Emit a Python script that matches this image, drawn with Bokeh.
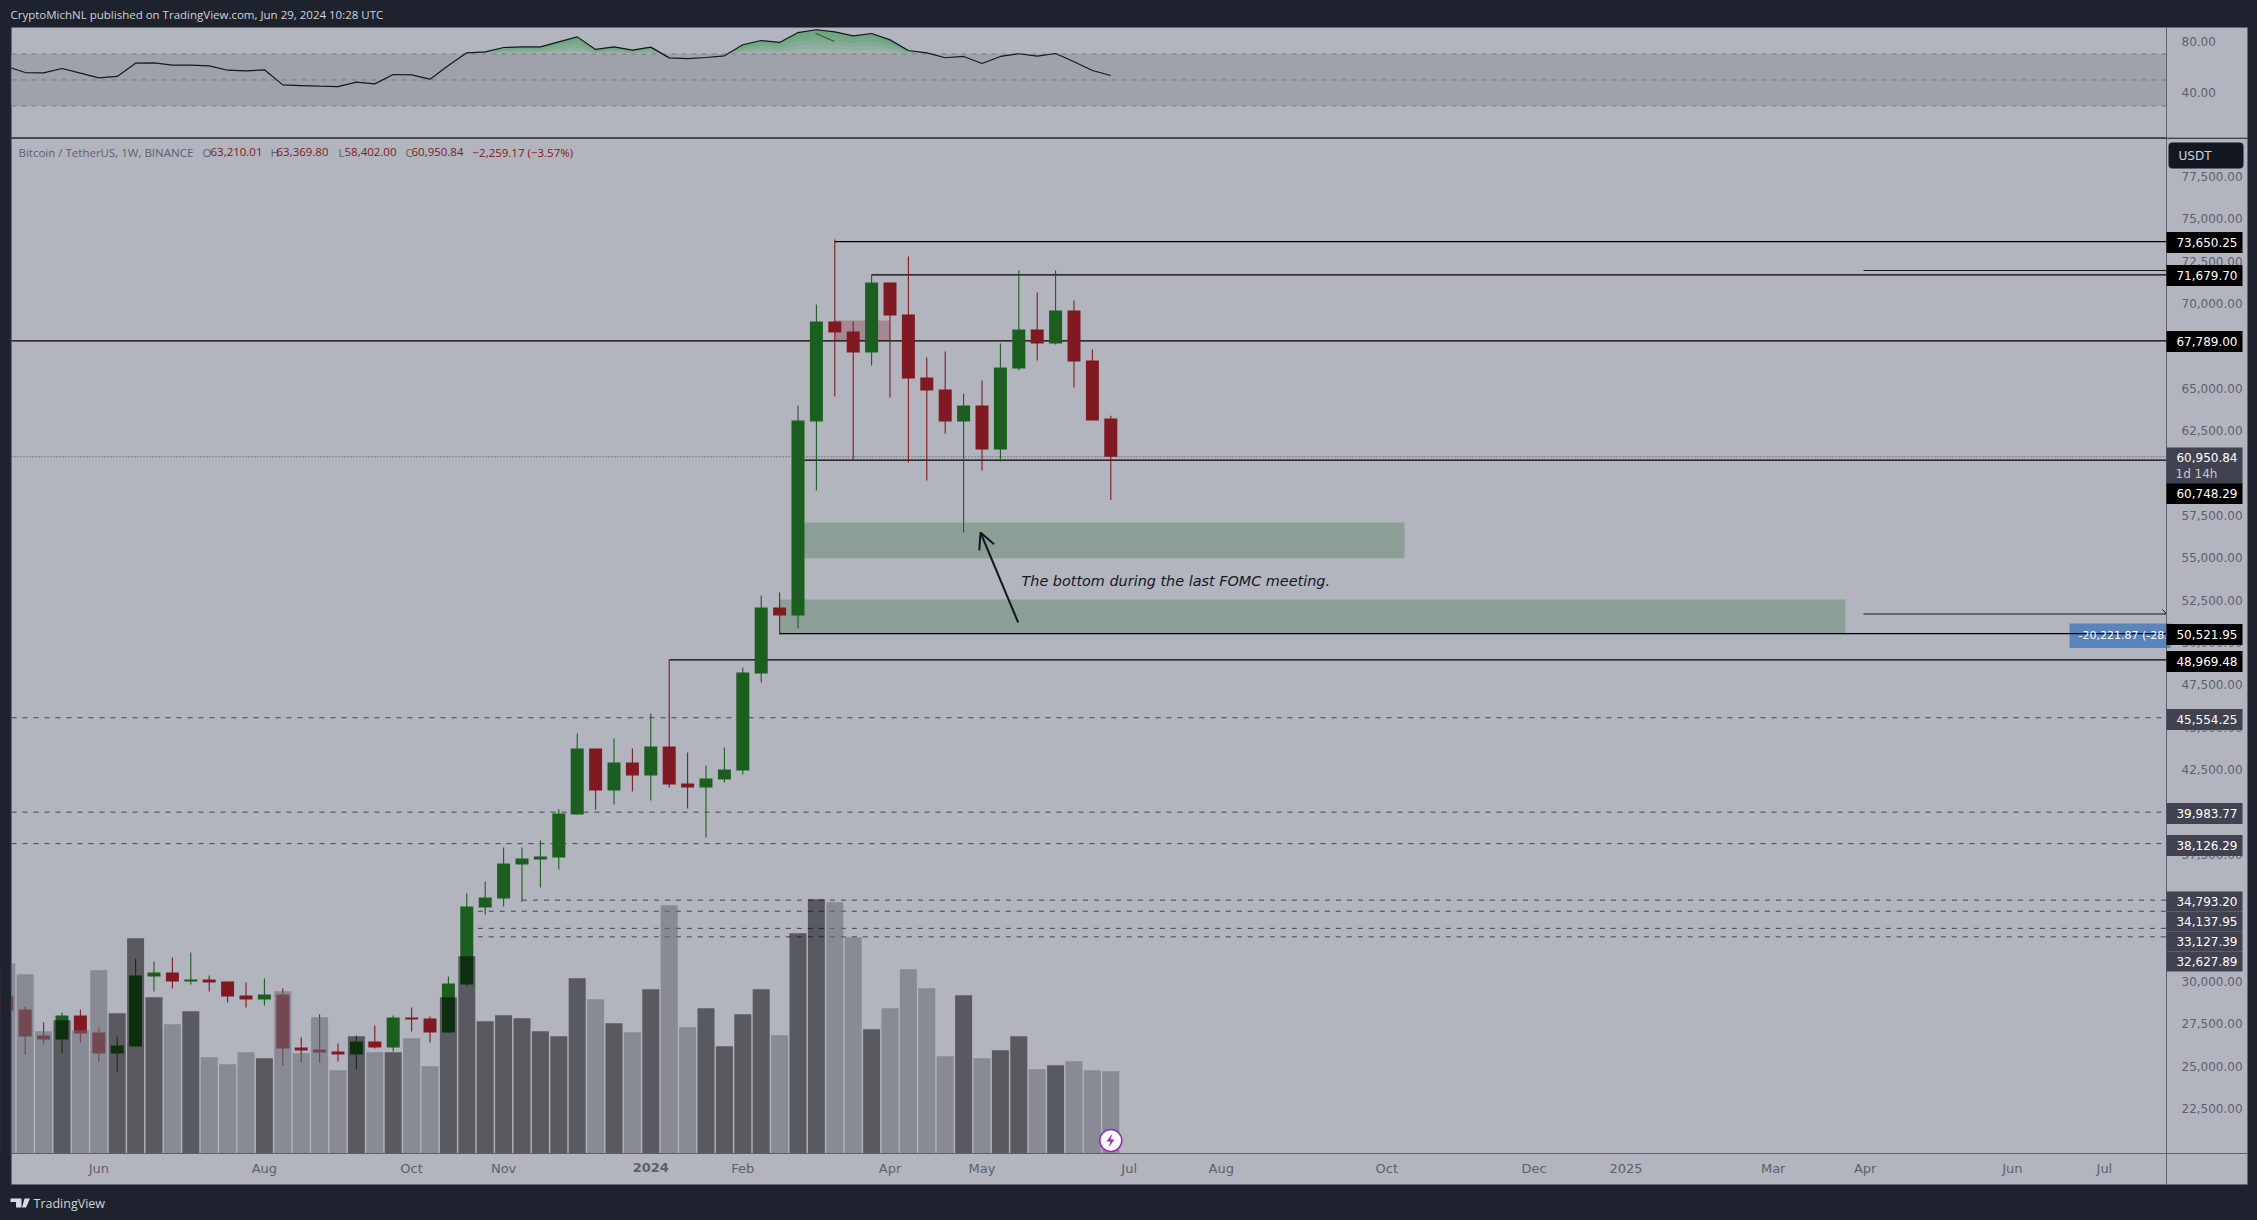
from bokeh.plotting import figure
from bokeh.layouts import column
from bokeh.embed import file_html
from bokeh.resources import INLINE
from bokeh.core.properties import value
from bokeh.models import (Range1d, FixedTicker, NumeralTickFormatter, Label, BoxAnnotation,
                          Arrow, OpenHead, PolyAnnotation)
import numpy as np

opens = [29108,28341,26807,26571,27987,26984,25745,26158,30288,30524,29993,30111,29993,29167,28931,
         29226,26099,25981,25863,25686,26453,26099,27869,27810,26984,29816,34359,34890,36896,37191,
         37309,39846,43740,41262,42914,42147,43858,41675,41439,41911,42442,48165,52059,51587,63033,
         68933,68343,67104,71234,69346,65629,64921,63033,63977,61381,66160,68461,67635,69582,66632,63210.01]
highs = [29462,28518,27574,28164,28341,27279,26748,31350,31173,31409,31704,30347,29993,29934,30170,
         29580,26689,28046,26335,26807,27397,27987,28459,27928,30288,35185,35893,37899,37899,38312,
         40141,44625,43740,44330,43740,45805,48969,43504,42737,43799,48519,52767,52944,63977,69936,
         73777,68933,71706,71234,72768,66809,67163,64685,65452,67635,71942,70644,71942,70172,67281,63369.80]
lows = [27889,25686,26276,25745,26394,25273,24683,26158,29403,29580,29816,29403,28754,28459,28577,
        25037,25214,25214,25273,24801,26040,25863,27043,26394,26984,29757,33946,34418,34695,35539,
        36600,39846,40141,40436,41203,40672,41439,40200,38489,41734,42206,47634,50466,50820,58962,
        64508,60732,66337,64449,60614,59552,62325,56484,60142,60673,66042,66632,67576,65039,63092,58402.00]
closes = [28282,26748,26571,27987,26925,25745,26217,30347,30524,29993,30111,29934,29108,28931,29226,
          26040,25922,25804,25686,26453,26099,27869,27751,26984,29875,34418,34949,36955,37250,37368,
          39905,43740,41262,42914,42147,43858,41616,41439,41970,42501,48224,52059,51587,63092,68933,
          68284,67104,71234,69287,65570,64862,63033,63977,61381,66219,68461,67635,69582,66573,63092,60950.84]
volumes = [571,538,367,400,370,550,421,646,469,388,427,289,268,304,286,487,301,409,250,352,304,304,346,
           262,469,592,397,415,406,367,352,526,463,391,364,493,745,379,436,322,418,493,355,661,763,754,
           649,373,436,553,496,292,475,286,310,352,253,265,277,250,247]
rsi = [60.4,55.7,55.5,58.8,55.2,51.6,52.7,62.9,63.2,61.4,61.4,60.9,57.5,57.0,57.8,46.2,45.7,45.2,44.9,
       48.3,47.0,54.2,53.9,50.6,61.1,70.9,71.7,75.0,75.5,75.5,79.4,83.2,73.5,75.5,73.0,75.3,67.0,66.5,
       67.3,68.6,77.1,80.4,78.9,86.5,88.7,87.1,84.0,85.8,80.9,72.7,70.9,67.1,68.1,62.7,68.1,70.2,68.3,
       70.4,64.0,57.3,53.4]
price_ticks = [22500,25000,27500,30000,32500,35000,37500,40000,42500,45000,47500,50000,52500,55000,
               57500,60000,62500,65000,67500,70000,72500,75000,77500]
time_ticks = {5:"Jun",14:"Aug",22:"Oct",27:"Nov",40:"Feb",48:"Apr",53:"May",61:"Jul",66:"Aug",75:"Oct",
              83:"Dec",88:"2025",96:"Mar",101:"Apr",109:"Jun",114:"Jul"}
solid_levels = [("73,650.25",73650.25,45),("71,679.70",71679.70,47),("67,789.00",67789.00,None),
                ("60,748.29",60748.29,43),("50,521.95",50521.95,42),("48,969.48",48969.48,36)]
dashed_levels = [("45,554.25",45554.25,None),("39,983.77",39983.77,None),("38,126.29",38126.29,None),
                 ("34,793.20",34793.20,28),("34,137.95",34137.95,25.0),("33,127.39",33127.39,25.6),("32,627.89",32627.89,25.6)]

DARK = "#1e222d"; PANE = "#b2b5be"; EDGE = "#5d606b"
GREEN = "#1b5e20"; RED = "#801922"; TICK = "#5d606b"; UI = "DejaVu Sans"

def X(px): return 60 + (px - 1110.3) / 18.4
def P(py): return 22500 + 59 * (1108 - py)
def R(py): return 30 + (105.4 - py) / 1.2975

x_range = Range1d(X(0), X(2249))

def dress(fig):
    fig.grid.visible = False
    fig.outline_line_color = None
    fig.background_fill_color = DARK
    fig.border_fill_color = DARK
    ax = fig.yaxis[0]
    ax.fixed_location = X(2166)
    ax.major_label_text_font = UI
    ax.major_label_text_font_size = "12px"
    ax.major_label_text_color = TICK
    ax.major_tick_line_color = None
    ax.minor_tick_line_color = None
    ax.axis_line_color = EDGE
    ax.major_label_standoff = 9

# ---------------------------------------------------------------- RSI pane
r = figure(width=2249, height=138, x_range=x_range, y_range=Range1d(R(138), R(0)), y_axis_location="right",
           toolbar_location=None, output_backend="svg", min_border=0)
r.xaxis.visible = False
dress(r)
r.yaxis.ticker = FixedTicker(ticks=[40, 80])
r.yaxis.formatter = NumeralTickFormatter(format="0.00")
r.yaxis.bounds = (R(138), R(27))
r.quad(left=[X(11)], right=[X(2247)], top=[R(27)], bottom=[R(138)], fill_color=PANE, line_color=None)
r.quad(left=[X(11)], right=[X(2166)], top=[70], bottom=[30], fill_color="#9fa2ab", line_color=None)
for lv in (70, 50, 30):
    r.line([X(11), X(2166)], [lv, lv], line_color="#787b86", line_width=1, line_dash="5 5")
idx = list(range(len(rsi)))
xf = np.linspace(0, 60, 2401)
rf = np.interp(xf, idx, rsi)
top = np.maximum(rf, 70)
for f in (0, 0.2, 0.4, 0.6, 0.8):
    r.varea(x=xf, y1=70 + (top - 70) * f, y2=top, fill_color="#2e9e46", fill_alpha=0.13)
r.line(idx, rsi, line_color="#131722", line_width=1.2)
r.line([X(815), X(834)], [86.0, 79.6], line_color="#1f4f2a", line_width=1)
r.add_layout(BoxAnnotation(left=X(0), right=X(10.5), top=R(0), bottom=R(138), fill_color=DARK, fill_alpha=1, line_color=None))
r.add_layout(BoxAnnotation(left=X(10.5), right=X(2247), top=R(27), bottom=R(160), fill_alpha=0, line_color=EDGE, line_width=1))
r.add_layout(BoxAnnotation(left=X(11), right=X(2166), top=R(136.8), bottom=R(138), fill_color="#2a2e39", fill_alpha=1, line_color=None))
r.add_layout(BoxAnnotation(left=X(2166), right=X(2247), top=R(137), bottom=R(138), fill_color=EDGE, fill_alpha=1, line_color=None))
r.add_layout(Label(x=X(10), y=R(14), text="CryptoMichNL published on TradingView.com, Jun 29, 2024 10:28 UTC",
                   text_font="Open Sans", text_font_size="11.5px", text_color="#d1d4dc", text_baseline="middle"))

# ---------------------------------------------------------------- main pane
p = figure(width=2249, height=1074, x_range=x_range, y_range=Range1d(P(1212), P(138)), y_axis_location="right",
           toolbar_location=None, output_backend="svg", min_border=0)
p.extra_y_ranges = {"vol": Range1d(-177, 3045)}
dress(p)
p.yaxis.ticker = FixedTicker(ticks=price_ticks)
p.yaxis.formatter = NumeralTickFormatter(format="0,0.00")
p.yaxis.bounds = (P(1184), P(138))

p.xaxis.fixed_location = P(1153)
p.xaxis.bounds = (X(11), X(2247))
p.xaxis.ticker = FixedTicker(ticks=list(time_ticks))
p.xaxis.major_label_overrides = time_ticks
p.xaxis.major_label_text_font = UI
p.xaxis.major_label_text_font_size = "13px"
p.xaxis.major_label_text_color = TICK
p.xaxis.major_tick_line_color = None
p.xaxis.minor_tick_line_color = None
p.xaxis.axis_line_color = EDGE
p.xaxis.major_label_standoff = 1

p.quad(left=[X(11)], right=[X(2247)], top=[P(138)], bottom=[P(1184)], fill_color=PANE, line_color=None)

# zones
p.quad(left=[X(802)], right=[X(1404)], top=[P(522)], bottom=[P(557.7)], fill_color=GREEN, fill_alpha=0.25, line_color=None)
p.quad(left=[X(779)], right=[X(1845)], top=[P(599)], bottom=[P(633)], fill_color=GREEN, fill_alpha=0.25, line_color=None)
p.quad(left=[45], right=[48], top=[P(320)], bottom=[67789], fill_color=RED, fill_alpha=0.28, line_color=None)
# measure label
p.quad(left=[X(2069)], right=[X(2170)], top=[P(623)], bottom=[P(647.5)], fill_color="#5a85bb", line_color=None)

# levels
for _, lv, start in solid_levels:
    p.line([X(11) if start is None else start, X(2166)], [lv, lv], line_color="#000000", line_width=1.3)
for _, lv, start in dashed_levels:
    p.line([X(11) if start is None else start, X(2166)], [lv, lv], line_color="#434651", line_width=1, line_dash="5 6")
p.line([X(11), X(2166)], [60950.84, 60950.84], line_color="#434651", line_width=1, line_dash="1 2")
p.line([X(1863), X(2166)], [P(270), P(270)], line_color="#131722", line_width=1)
p.line([X(1863), X(2166)], [P(613.5), P(613.5)], line_color="#131722", line_width=1)
p.line([X(2162), X(2166)], [P(609), P(613.5)], line_color="#131722", line_width=1)

# candles
xs = np.arange(len(closes))
o, h, l, c = map(np.array, (opens, highs, lows, closes))
up = c >= o
colors = np.where(up, GREEN, RED)
p.segment(x0=xs, x1=xs, y0=l, y1=h, line_color=colors.tolist(), line_width=1.1)
p.vbar(x=xs, width=13 / 18.4, top=np.maximum(o, c), bottom=np.minimum(o, c), fill_color=colors.tolist(), line_color=None)

# volume
p.vbar(x=xs[up], width=17 / 18.4, top=np.array(volumes)[up], bottom=0, y_range_name="vol",
       fill_color="#000000", fill_alpha=0.5, line_color=None)
p.vbar(x=xs[~up], width=17 / 18.4, top=np.array(volumes)[~up], bottom=0, y_range_name="vol",
       fill_color="#696b75", fill_alpha=0.58, line_color=None)

# measure text
p.text(x=[X(2078)], y=[P(635)], text=["-20,221.87 (-28.57%)"], text_font=value(UI), text_font_size="11px",
       text_color="#ffffff", text_baseline="middle")

# flash badge
p.scatter(x=[60], y=[P(1140)], size=22, marker="circle", fill_color="#ffffff", line_color="#9c27b0", line_width=1.5)
bolt_x = [2, -4, 0, -2, 4, 0]
bolt_y = [-7, 1, 1, 7, -1, -1]
p.patch([X(1110 + b) for b in bolt_x], [P(1140 + b) for b in bolt_y], fill_color="#9c27b0", line_color=None)

# left margin mask
p.add_layout(BoxAnnotation(left=X(0), right=X(10.5), top=P(138), bottom=P(1212), fill_color=DARK, fill_alpha=1, line_color=None))

# annotation
p.add_layout(Arrow(end=OpenHead(size=16, line_color="#131722", line_width=2), x_start=X(1017.7), y_start=P(622),
                   x_end=X(980), y_end=P(532), line_color="#131722", line_width=2))
p.add_layout(Label(x=X(1021), y=P(580.5), text="The bottom during the last FOMC meeting.", text_font=UI,
                   text_font_style="italic", text_font_size="14.4px", text_color="#131722", text_baseline="middle"))

# legend row
legend = [(18, "Bitcoin / TetherUS, 1W, BINANCE", TICK), (202, "O", TICK), (210, "63,210.01", RED), (270, "H", TICK),
          (276, "63,369.80", RED), (338, "L", TICK), (344, "58,402.00", RED), (405, "C", TICK), (411, "60,950.84", RED),
          (472, "\u22122,259.17 (\u22123.57%)", RED)]
for px, txt, col in legend:
    p.add_layout(Label(x=X(px), y=P(151.5), text=txt, text_font="Open Sans", text_font_size="11.5px", text_color=col,
                       text_baseline="middle"))

# 2024 in bold on the time scale
p.add_layout(Label(x=35, y=P(1167), text="2024", text_font=UI, text_font_style="bold", text_font_size="13px",
                   text_color=TICK, text_align="center", text_baseline="middle"))

# USDT button
p.add_layout(BoxAnnotation(left=X(2168), right=X(2243), top=P(142), bottom=P(168), fill_color="#131722", fill_alpha=1,
                           line_color=EDGE, line_width=1, border_radius=4))
p.add_layout(Label(x=X(2178), y=P(155), text="USDT", text_font=UI, text_font_size="12px", text_color="#d1d4dc",
                   text_baseline="middle"))

# price tags
def tag(cy, txt, fill, height=21):
    p.add_layout(BoxAnnotation(left=X(2166), right=X(2242), top=P(cy - height / 2), bottom=P(cy + height / 2),
                               fill_color=fill, fill_alpha=1, line_color=None))
    p.add_layout(Label(x=X(2237), y=P(cy), text=txt, text_font=UI, text_font_size="12px", text_color="#ffffff",
                       text_align="right", text_baseline="middle"))

for cy, (txt, _, _) in zip((242, 275, 341, 493, 634, 661), solid_levels):
    tag(cy, txt, "#000000")
for cy, (txt, _, _) in zip((719, 813, 845), dashed_levels[:3]):
    tag(cy, txt, "#40434f")
for cy, (txt, _, _) in zip((901, 921, 941, 961), dashed_levels[3:]):
    tag(cy, txt, "#40434f", 20)
p.add_layout(BoxAnnotation(left=X(2166), right=X(2242), top=P(447), bottom=P(483), fill_color="#40434f", fill_alpha=1,
                           line_color=None))
p.add_layout(Label(x=X(2237), y=P(457), text="60,950.84", text_font=UI, text_font_size="12px", text_color="#ffffff",
                   text_align="right", text_baseline="middle"))
p.add_layout(Label(x=X(2175), y=P(473), text="1d 14h", text_font=UI, text_font_size="12px", text_color="#c5c7ce",
                   text_baseline="middle"))

# frame around panes
p.add_layout(BoxAnnotation(left=X(10.5), right=X(2247), top=P(120), bottom=P(1184), fill_alpha=0, line_color=EDGE, line_width=1))

# logo
p.add_layout(PolyAnnotation(xs=[X(v) for v in (10, 21, 21, 15.5, 15.5, 10)], ys=[P(v) for v in (1198, 1198, 1207, 1207, 1201.5, 1201.5)],
                            fill_color="#d8dbe3", fill_alpha=1, line_color=None))
p.add_layout(PolyAnnotation(xs=[X(v) for v in (24, 29.5, 25.5, 21.5)], ys=[P(v) for v in (1198, 1198, 1207, 1207)],
                            fill_color="#d8dbe3", fill_alpha=1, line_color=None))
p.add_layout(Label(x=X(33), y=P(1202.5), text="TradingView", text_font="Open Sans", text_font_size="12.5px",
                   text_color="#d1d4dc", text_baseline="middle"))

layout = column(r, p, spacing=0)
html = file_html(layout, INLINE)
html = html.replace("</head>", "<style>html,body{background:#1e222d;overflow:hidden}</style></head>")
open("out.html", "w").write(html)
